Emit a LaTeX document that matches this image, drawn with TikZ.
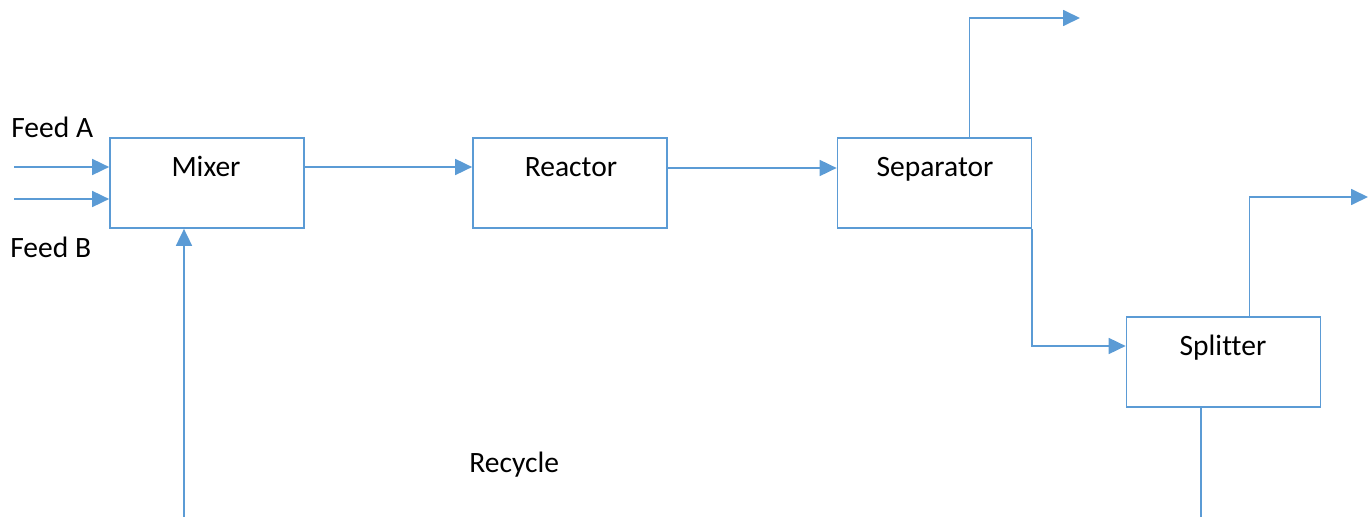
\documentclass[tikz,border=0pt]{standalone}
\usepackage{fontspec}
\setmainfont{Carlito}[Ligatures=NoCommon]
\usetikzlibrary{arrows.meta}

\definecolor{azul}{HTML}{5B9BD5}

\begin{document}
\begin{tikzpicture}[x=0.02cm, y=-0.02cm,
        caja/.style={draw=azul, line width=1pt, minimum width=3.88cm, minimum height=1.8cm},
        flujo/.style={draw=azul, line width=1pt, -{Triangle[length=0.34cm, width=0.32cm]}},
        linea/.style={draw=azul, line width=1pt},
        texto/.style={font=\fontsize{16.8}{20}\selectfont, inner sep=0pt}]
        \useasboundingbox (0,0) rectangle (1370,517);

        % Equipos
        \node[caja] (mixer) at (207,183) {};
        \node[caja] (reactor) at (570,183) {};
        \node[caja] (separator) at (934.5,183) {};
        \node[caja] (splitter) at (1223.5,362) {};

        % Nombres de los equipos
        \node[texto, anchor=base] (tmixer) at (206,176) {Mixer};
        \node[texto, anchor=base] (treactor) at (571,176) {Reactor};
        \node[texto, anchor=base] (tseparator) at (935,176) {Separator};
        \node[texto, anchor=base] (tsplitter) at (1223,355) {Splitter};

        % Corrientes
        \node[texto, anchor=base west] (feedA) at (11,137) {Feed A};
        \node[texto, anchor=base west] (feedB) at (10,257) {Feed B};
        \node[texto, anchor=base west] (recycle) at (469,472) {Recycle};

        % Extremos libres
        \coordinate (inA) at (14,167);
        \coordinate (inB) at (14,199);
        \coordinate (inR) at (184,517);
        \coordinate (topsep) at (1080,18);
        \coordinate (topspl) at (1368,197);
        \coordinate (botspl) at (1201,517);

        % Flechas
        \draw[flujo] (inA) -- (inA -| mixer.west);
        \draw[flujo] (inB) -- (inB -| mixer.west);
        \draw[flujo] (inR) -- (inR |- mixer.south);
        \draw[flujo] ([yshift=.32cm]mixer.east) -- ([yshift=.32cm]reactor.west);
        \draw[flujo] ([yshift=.3cm]reactor.east) -- ([yshift=.3cm]separator.west);
        \draw[flujo] ([xshift=.7cm]separator.north) |- (topsep);
        \draw[flujo] (separator.south east) |- ([yshift=.32cm]splitter.west);
        \draw[flujo] ([xshift=.52cm]splitter.north) |- (topspl);
        \draw[linea] ([xshift=-.45cm]splitter.south) -- (botspl);
    \end{tikzpicture}
\end{document}
